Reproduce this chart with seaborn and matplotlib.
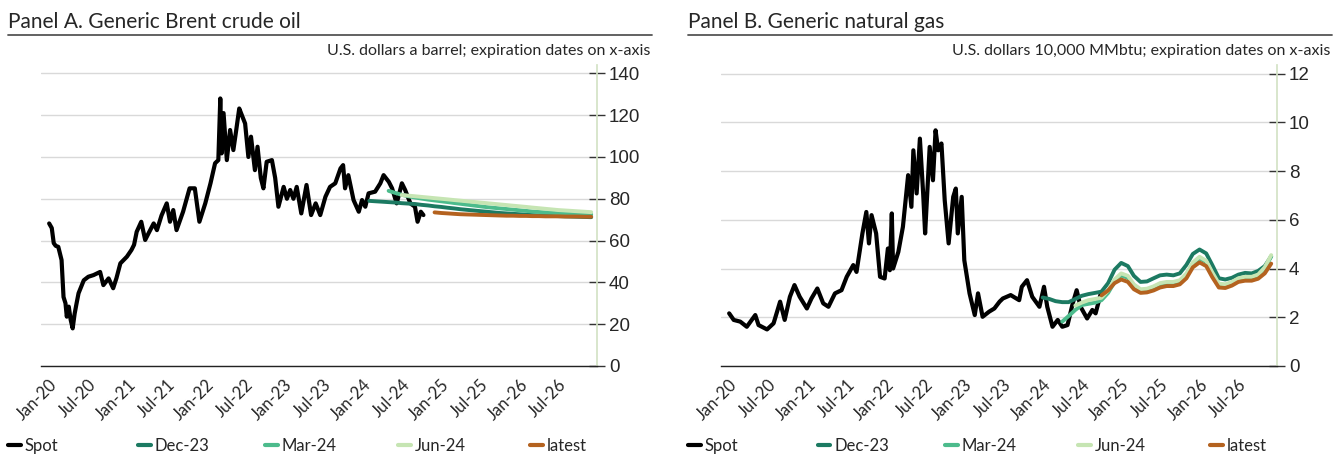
import matplotlib
matplotlib.use("Agg")
import matplotlib.dates as mdates
import matplotlib.pyplot as plt
import numpy as np
import pandas as pd
import seaborn as sns
from matplotlib.lines import Line2D

# ---- data ------------------------------------------------------------------
# spot: position in months after 1 Jan 2020, value
brent_spot_months = [0, 0.4, 0.7, 1.0, 1.4, 1.9, 2.2, 2.5, 2.7, 3.0, 3.3, 3.6, 3.9, 4.2, 4.5,
                     5.3, 6.0, 6.8, 7.8, 8.3, 9.1, 9.8, 10.3, 10.9, 11.9, 12.6, 13.0, 13.4,
                     14.1, 14.7, 15.3, 16.0, 16.5, 17.2, 18.0, 18.5, 19.0, 19.5, 20.5, 21.5,
                     22.3, 23.0, 23.9, 24.7, 25.4, 25.9, 26.2, 26.4, 26.7, 27.2, 27.7, 28.2,
                     28.6, 29.1, 29.5, 30.0, 30.5, 30.9, 31.5, 31.9, 32.4, 32.8, 33.3, 34.1,
                     34.6, 35.1, 35.9, 36.4, 36.9, 37.4, 37.9, 38.6, 39.4, 40.1, 40.8, 41.5,
                     42.3, 43.0, 43.8, 44.6, 45.0, 45.3, 45.8, 46.6, 47.4, 47.9, 48.4, 48.9,
                     49.9, 50.7, 51.2, 52.0, 52.5, 53.2, 54.0, 54.5, 55.3, 56.0, 56.4, 56.9,
                     57.3]
brent_spot_values = [68.2, 66, 58.8, 57.5, 57, 50.7, 33, 30, 23.6, 28.4, 22, 18, 25, 30, 34.8,
                     41, 42.7, 43.5, 45, 38.7, 41.9, 37.2, 42, 49.1, 52.3, 55.5, 58, 64.2,
                     69, 60.3, 64, 68.2, 65, 72, 77.8, 69, 74.6, 65, 73.8, 85,
                     85, 69, 77.8, 87.4, 97, 98.5, 128, 101.7, 121, 98.5, 112.9, 103.3,
                     112, 123.2, 120, 116, 100, 109.7, 93.7, 104.9, 90, 85, 97.7, 98.5,
                     90, 76.2, 85.7, 80, 84.2, 80, 85.7, 73, 86.6, 72.2, 77.8, 72.2,
                     81, 85.7, 87.4, 94.5, 96.1, 85, 91.3, 79.4, 73.8, 79.4, 76.2, 82.6,
                     83.4, 87.4, 91.3, 88.1, 85, 77.8, 87.4, 84.2, 77.8, 76.2, 69, 73.8,
                     72.2]

gas_spot_months = [0, 0.7, 1.7, 2.7, 4.0, 4.5, 5.8, 6.8, 7.8, 8.5, 9.3, 10.0, 10.8, 11.9,
                   12.6, 13.5, 14.4, 15.2, 16.2, 17.2, 18.0, 19.0, 19.5, 20.4, 21.0, 21.4,
                   21.8, 22.5, 23.1, 23.8, 24.3, 24.6, 24.9, 25.1, 25.9, 26.6, 27.4, 27.9,
                   28.2, 28.7, 29.2, 29.7, 30.0, 30.7, 31.2, 31.6, 32.0, 32.5, 33.0, 33.6,
                   34.3, 34.7, 35.0, 35.6, 36.0, 36.8, 37.6, 38.1, 38.8, 39.8, 40.6, 41.4,
                   41.9, 43.1, 44.4, 44.8, 45.6, 46.4, 47.5, 48.2, 48.7, 49.5, 50.3, 51.0,
                   51.8, 52.6, 53.2, 53.8, 54.8, 55.6, 56.1, 56.9]
gas_spot_values = [2.16, 1.89, 1.82, 1.61, 2.09, 1.68, 1.5, 1.75, 2.64, 1.89, 2.84, 3.32, 2.84,
                   2.36, 2.77, 3.18, 2.57, 2.43, 2.98, 3.11, 3.66, 4.14, 3.86, 5.44, 6.32, 5.03,
                   6.19, 5.44, 3.66, 3.59, 4.82, 3.93, 6.26, 4.0, 4.68, 5.71, 7.83, 6.53,
                   8.85, 7.08, 9.33, 7.08, 5.44, 8.99, 7.62, 9.67, 8.85, 9.13, 6.8, 5.03,
                   6.94, 7.28, 5.44, 6.94, 4.34, 2.98, 2.09, 2.98, 2.02, 2.23, 2.36, 2.64,
                   2.77, 2.91, 2.7, 3.25, 3.52, 2.84, 2.43, 3.25, 2.43, 1.61, 1.89, 1.61,
                   1.68, 2.57, 3.11, 2.43, 1.95, 2.3, 2.16, 2.98]

# futures curves: first contract month, then one value per monthly contract
brent_dec23_start = "2024-02"
brent_dec23 = [79.0, 78.8, 78.6, 78.4, 78.2, 77.9, 77.7, 77.5, 77.1, 76.8, 76.4, 76.1, 75.7,
               75.4, 75.0, 74.7, 74.4, 74.1, 73.8, 73.5, 73.2, 73.0, 72.8, 72.6, 72.4, 72.2,
               72.0, 71.9, 71.8, 71.7, 71.6, 71.5, 71.4, 71.3, 71.2]
brent_mar24_start = "2024-05"
brent_mar24 = [83.8, 82.8, 81.9, 81.2, 80.6, 80.1, 79.6, 79.2, 78.8, 78.4, 78.0, 77.6, 77.2,
               76.8, 76.4, 76.0, 75.7, 75.4, 75.1, 74.8, 74.5, 74.2, 73.9, 73.7, 73.5, 73.3,
               73.1, 72.9, 72.8, 72.7, 72.6, 72.5]
brent_jun24_start = "2024-07"
brent_jun24 = [81.8, 81.5, 81.2, 80.9, 80.6, 80.3, 80.0, 79.7, 79.4, 79.1, 78.8, 78.5, 78.2,
               77.9, 77.6, 77.3, 77.0, 76.7, 76.4, 76.1, 75.8, 75.5, 75.2, 74.9, 74.6, 74.4,
               74.2, 74.0, 73.8, 73.6]
brent_latest_start = "2024-12"
brent_latest = [73.5, 73.2, 73.0, 72.8, 72.6, 72.5, 72.4, 72.3, 72.2, 72.1, 72.0, 71.9, 71.9,
                71.8, 71.8, 71.7, 71.7, 71.6, 71.6, 71.6, 71.5, 71.5, 71.5, 71.4, 71.4]

gas_dec23_start = "2024-01"
gas_dec23 = [2.81, 2.75, 2.66, 2.62, 2.62, 2.75, 2.88, 2.95, 3.0, 3.05, 3.4, 3.95, 4.23,
             4.1, 3.7, 3.45, 3.47, 3.6, 3.72, 3.75, 3.72, 3.8, 4.15, 4.6, 4.78, 4.62, 4.15,
             3.6, 3.55, 3.62, 3.75, 3.82, 3.8, 3.9, 4.1, 4.5]
gas_mar24_start = "2024-04"
gas_mar24 = [1.82, 2.05, 2.3, 2.5, 2.55, 2.6, 2.7, 3.0, 3.45, 3.72, 3.62, 3.28, 3.08, 3.1,
             3.2, 3.33, 3.38, 3.38, 3.45, 3.75, 4.2, 4.42, 4.27, 3.8, 3.32, 3.3, 3.4, 3.55,
             3.62, 3.62, 3.7, 4.0, 4.5]
gas_jun24_start = "2024-06"
gas_jun24 = [2.48, 2.6, 2.7, 2.75, 2.8, 3.1, 3.55, 3.8, 3.7, 3.35, 3.15, 3.17, 3.27, 3.4,
             3.45, 3.45, 3.52, 3.8, 4.25, 4.48, 4.32, 3.85, 3.38, 3.35, 3.45, 3.6, 3.66,
             3.66, 3.75, 4.05, 4.55]
gas_latest_start = "2024-10"
gas_latest = [2.9, 3.1, 3.4, 3.55, 3.45, 3.15, 3.0, 3.02, 3.1, 3.22, 3.28, 3.28, 3.35, 3.6,
              4.05, 4.25, 4.1, 3.65, 3.22, 3.2, 3.3, 3.45, 3.5, 3.5, 3.58, 3.8, 4.2]

CURVES = ["Dec-23", "Mar-24", "Jun-24", "latest"]
COLORS = {"Spot": "#000000", "Dec-23": "#1c7a62", "Mar-24": "#4cbb8c",
          "Jun-24": "#c6e5b3", "latest": "#b4621f"}
LEGEND_OFFSETS = [0, 130, 257, 390, 522]  # px from the panel title's left edge

W, H = 1344, 457
TEXT_FONT = ["Lato", "DejaVu Sans"]
NUM_FONT = ["Liberation Sans", "DejaVu Sans"]


def spot_frame(months, values):
    dates = pd.Timestamp("2020-01-01") + pd.to_timedelta(np.array(months) * 30.44, unit="D")
    return pd.DataFrame({"date": dates, "value": values})


def curves_frame(curves):
    parts = []
    for name, (start, values) in zip(CURVES, curves):
        dates = pd.date_range(start, periods=len(values), freq="MS")
        parts.append(pd.DataFrame({"date": dates, "value": values, "series": name}))
    return pd.concat(parts, ignore_index=True)


def draw_panel(fig, left_px, spot, fut, ymax, yticks, title, subtitle):
    right_px = left_px + 556
    ax = fig.add_axes([left_px / W, 1 - 366 / H, (right_px - left_px) / W, 301 / H])
    sns.lineplot(data=spot, x="date", y="value", color="black", lw=3.0,
                 sort=False, ax=ax, legend=False)
    sns.lineplot(data=fut, x="date", y="value", hue="series", hue_order=CURVES,
                 palette=COLORS, lw=2.8, ax=ax, legend=False)

    ax.set_xlim(pd.Timestamp("2019-11-24"), pd.Timestamp("2026-12-28"))
    ax.set_ylim(0, ymax)
    ax.set_yticks(yticks)
    ax.xaxis.set_major_locator(mdates.MonthLocator(bymonth=[1, 7]))
    ax.xaxis.set_major_formatter(mdates.DateFormatter("%b-%y"))
    ax.set_xlabel("")
    ax.set_ylabel("")
    ax.yaxis.tick_right()
    ax.grid(axis="y", color="#d9d9d9", lw=1)
    ax.grid(axis="x", visible=False)
    ax.set_axisbelow(True)
    for side in ("left", "top"):
        ax.spines[side].set_visible(False)
    ax.spines["right"].set_color("#d4e3c6")
    ax.spines["bottom"].set_color("#222222")
    ax.spines["bottom"].set_linewidth(1)
    ax.tick_params(axis="x", direction="inout", length=11, width=1, color="#333333",
                   pad=2, labelsize=12)
    ax.tick_params(axis="y", direction="inout", length=11, width=1, color="#333333",
                   pad=3, labelsize=13.5)
    for lab in ax.get_xticklabels():
        lab.set_rotation(45)
        lab.set_ha("right")
        lab.set_va("top")
        lab.set_rotation_mode("anchor")
        lab.set_family(TEXT_FONT)
    for lab in ax.get_yticklabels():
        lab.set_family(NUM_FONT)

    x0_px = left_px - 33
    fig.text(x0_px / W, 1 - 28 / H, title, fontsize=15, va="baseline", family=TEXT_FONT)
    fig.add_artist(Line2D([x0_px / W, (right_px + 55) / W], [1 - 35 / H] * 2,
                          transform=fig.transFigure, color="#555555", lw=1.3))
    fig.text((right_px + 53) / W, 1 - 55 / H, subtitle, fontsize=11.5, ha="right",
             va="baseline", family=TEXT_FONT)

    # one legend entry per slot so the entries sit at an even pitch
    for name, off in zip(["Spot"] + CURVES, LEGEND_OFFSETS):
        fig.legend([Line2D([], [], color=COLORS[name], lw=3)], [name], loc="center left",
                   bbox_to_anchor=((x0_px + off) / W, 1 - 446 / H), frameon=False,
                   handlelength=0.75, handletextpad=0.25, borderaxespad=0, borderpad=0,
                   prop={"family": TEXT_FONT, "size": 12})
    return ax


sns.set_theme(style="white")
plt.rcParams["font.family"] = TEXT_FONT

fig = plt.figure(figsize=(W / 100, H / 100), dpi=100)

brent_fut = curves_frame([(brent_dec23_start, brent_dec23), (brent_mar24_start, brent_mar24),
                          (brent_jun24_start, brent_jun24), (brent_latest_start, brent_latest)])
gas_fut = curves_frame([(gas_dec23_start, gas_dec23), (gas_mar24_start, gas_mar24),
                        (gas_jun24_start, gas_jun24), (gas_latest_start, gas_latest)])

draw_panel(fig, 41, spot_frame(brent_spot_months, brent_spot_values), brent_fut,
           144, range(0, 141, 20), "Panel A. Generic Brent crude oil",
           "U.S. dollars a barrel; expiration dates on x-axis")
draw_panel(fig, 721, spot_frame(gas_spot_months, gas_spot_values), gas_fut,
           12.35, range(0, 13, 2), "Panel B. Generic natural gas",
           "U.S. dollars 10,000 MMbtu; expiration dates on x-axis")

fig.savefig("out.png", dpi=100)
